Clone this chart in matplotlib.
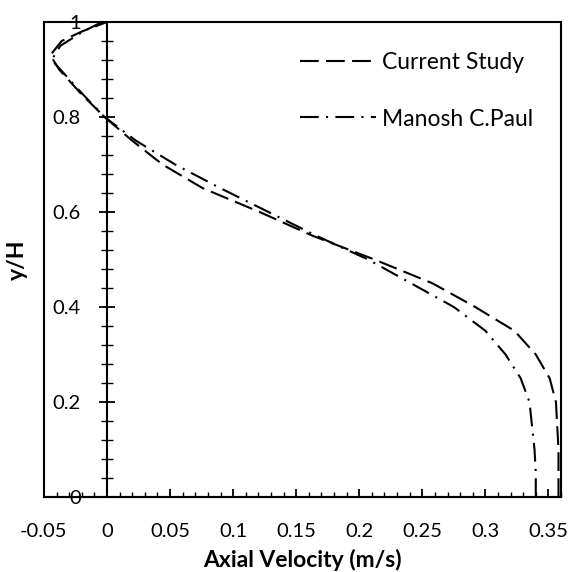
import matplotlib.pyplot as plt
from matplotlib.patches import Rectangle
from matplotlib.ticker import MultipleLocator

plt.rcParams['font.family'] = ['Lato', 'DejaVu Sans']

# Data
y_current = [0.0, 0.05, 0.1, 0.15, 0.2, 0.25, 0.3, 0.35, 0.4, 0.45, 0.5,
             0.55, 0.6, 0.65, 0.7, 0.75, 0.8, 0.85, 0.9, 0.93, 0.96, 0.98, 1.0]
u_current = [0.358, 0.358, 0.358, 0.357, 0.356, 0.351, 0.340, 0.323, 0.292, 0.258, 0.212,
             0.163, 0.121, 0.076, 0.044, 0.020, -0.002, -0.021, -0.038, -0.045, -0.036, -0.02, 0.0]

y_paul = [0.0, 0.05, 0.1, 0.15, 0.2, 0.25, 0.3, 0.35, 0.4, 0.45, 0.5,
          0.55, 0.6, 0.65, 0.7, 0.75, 0.8, 0.85, 0.9, 0.92, 0.95, 0.98, 1.0]
u_paul = [0.340, 0.340, 0.339, 0.337, 0.335, 0.328, 0.316, 0.300, 0.275, 0.241, 0.207,
          0.166, 0.128, 0.090, 0.054, 0.023, -0.002, -0.020, -0.037, -0.044, -0.037, -0.019, -0.004]

fig = plt.figure(figsize=(5.74, 5.72), dpi=100)
ax = fig.add_axes([44 / 574, 1 - 497 / 572, (561 - 44) / 574, (497 - 22) / 572])

ax.plot(u_current, y_current, color='black', lw=1.5, linestyle=(0, (9, 3.5)),
        label='Current Study')
ax.plot(u_paul, y_paul, color='black', lw=1.5, linestyle=(0, (9, 3.5, 1, 3.5)),
        label='Manosh C.Paul')

ax.set_xlim(-0.05, 0.36)
ax.set_ylim(0, 1)

# y axis crosses at x = 0, box drawn around the plot area
ax.spines['left'].set_position(('data', 0))
ax.spines['left'].set_linewidth(1.5)
ax.spines['bottom'].set_linewidth(1.5)
ax.spines['top'].set_visible(False)
ax.spines['right'].set_visible(False)
ax.add_patch(Rectangle((0, 0), 1, 1, transform=ax.transAxes, fill=False,
                       edgecolor='black', lw=1.5, clip_on=False))

ax.xaxis.set_major_locator(MultipleLocator(0.05))
ax.xaxis.set_minor_locator(MultipleLocator(0.01))
ax.yaxis.set_major_locator(MultipleLocator(0.2))
ax.yaxis.set_minor_locator(MultipleLocator(0.04))
ax.xaxis.set_major_formatter(plt.FuncFormatter(lambda v, p: f'{v:g}' if abs(v) > 1e-9 else '0'))
ax.yaxis.set_major_formatter(plt.FuncFormatter(lambda v, p: f'{v:g}' if abs(v) > 1e-9 else '0'))

ax.tick_params(axis='x', which='major', direction='in', length=6, width=1.3, pad=19, labelsize=14.5)
ax.tick_params(axis='x', which='minor', direction='in', length=3.5, width=1.0)
ax.tick_params(axis='y', which='major', direction='inout', length=12, width=1.3, pad=13, labelsize=14.5)
ax.tick_params(axis='y', which='minor', direction='inout', length=8, width=1.0)

ax.set_xlabel('Axial Velocity (m/s)', fontsize=16.5, fontweight='bold', labelpad=6)
ax.set_ylabel('y/H', fontsize=16.5, fontweight='bold')
ax.yaxis.set_label_coords(-0.032, 0.5, transform=ax.transAxes)

ax.legend(loc='upper left', bbox_to_anchor=(300 / 574, 1 - 52 / 572),
          bbox_transform=fig.transFigure, frameon=False, fontsize=16.5,
          handlelength=3.3, handletextpad=0.3, labelspacing=1.55, borderpad=0,
          borderaxespad=0)

fig.savefig('out.png', dpi=100)
